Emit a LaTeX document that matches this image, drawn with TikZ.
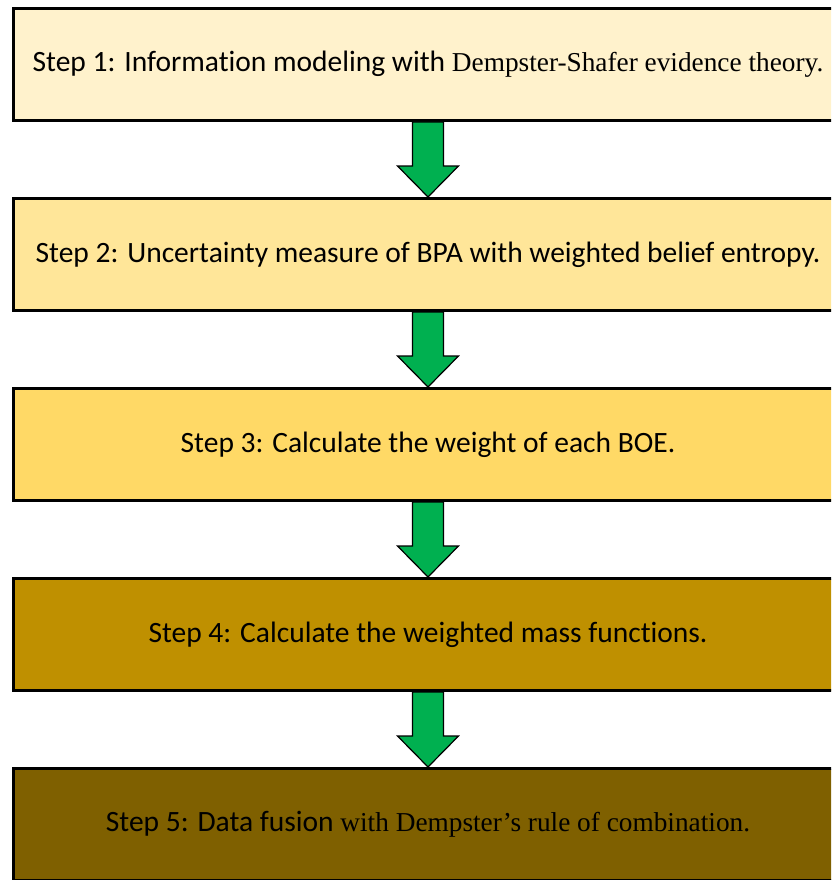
\documentclass[tikz,border=0pt]{standalone}
\usepackage{fontspec}
\setmainfont{Liberation Serif}
\newfontfamily\calibri[Ligatures=NoCommon]{Carlito}
\newcommand{\timespart}[1]{{\fontsize{27.3}{33}\rmfamily #1}}
\usetikzlibrary{positioning,calc}
\definecolor{gold1}{HTML}{FFF2CC}
\definecolor{gold2}{HTML}{FFE699}
\definecolor{gold3}{HTML}{FFD966}
\definecolor{gold4}{HTML}{BF9000}
\definecolor{gold5}{HTML}{7F6000}
\definecolor{arrowgreen}{HTML}{00B050}
\tikzset{
  stepbox/.style={draw=black, line width=3pt, minimum width=829pt, minimum height=112pt,
    inner sep=0pt, font=\fontsize{29.5}{33}\calibri},
  downarrow/.style={draw=black, line width=1.2pt, fill=arrowgreen, line join=miter}
}
\newcommand{\flowarrow}[2]{%
  \draw[downarrow] let \p1=(#1.south), \p2=(#2.north) in
    (\x1-15.5pt,\y1) -- (\x1-15.5pt,\y2+31pt) -- (\x1-30.5pt,\y2+31pt) -- (\x1,\y2)
    -- (\x1+30.5pt,\y2+31pt) -- (\x1+15.5pt,\y2+31pt) -- (\x1+15.5pt,\y1) -- cycle;}
\begin{document}
\begin{tikzpicture}[x=1pt, y=1pt, node distance=75pt]
		\useasboundingbox (0,0) rectangle (831,-880);
		\clip (0,0) rectangle (831,-880);
		\node[stepbox, fill=gold1] (step1) at (428,-64.5) {Step 1: Information modeling with \timespart{Dempster-Shafer evidence theory.}};
		\node[stepbox, fill=gold2, below=of step1] (step2) {Step 2: Uncertainty measure of BPA with weighted belief entropy.};
		\node[stepbox, fill=gold3, below=of step2] (step3) {Step 3: Calculate the weight of each BOE.};
		\node[stepbox, fill=gold4, below=of step3] (step4) {Step 4: Calculate the weighted mass functions.};
		\node[stepbox, fill=gold5, below=of step4] (step5) {Step 5: Data fusion \timespart{with Dempster’s rule of combination.}};
		\flowarrow{step1}{step2}
		\flowarrow{step2}{step3}
		\flowarrow{step3}{step4}
		\flowarrow{step4}{step5}
	\end{tikzpicture}
\end{document}
